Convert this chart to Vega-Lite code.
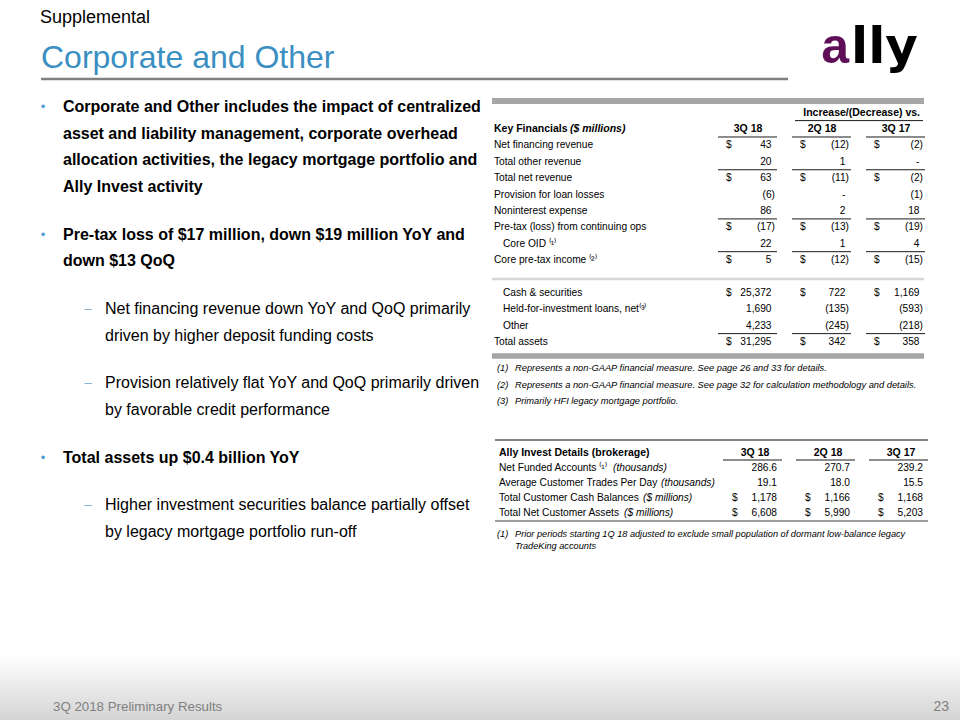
{
  "$schema": "https://vega.github.io/schema/vega-lite/v6.json",
  "width": 960,
  "height": 720,
  "autosize": {"type": "none"},
  "padding": 0,
  "background": "#ffffff",
  "config": {"view": {"stroke": null}, "axis": {"disable": true}, "legend": {"disable": true}, "font": "Liberation Sans"},
  "datasets": {
    "page": [{"section": "Supplemental", "title": "Corporate and Other", "footer": "3Q 2018 Preliminary Results", "pageNo": "23"}],
    "logo": [{"a": "a", "rest": "lly"}],
    "bullets": [
      {"para": 0, "line": 0, "level": 1, "marker": "•", "text": "Corporate and Other includes the impact of centralized"},
      {"para": 0, "line": 1, "level": 1, "marker": "", "text": "asset and liability management, corporate overhead"},
      {"para": 0, "line": 2, "level": 1, "marker": "", "text": "allocation activities, the legacy mortgage portfolio and"},
      {"para": 0, "line": 3, "level": 1, "marker": "", "text": "Ally Invest activity"},
      {"para": 1, "line": 4, "level": 1, "marker": "•", "text": "Pre-tax loss of $17 million, down $19 million YoY and"},
      {"para": 1, "line": 5, "level": 1, "marker": "", "text": "down $13 QoQ"},
      {"para": 2, "line": 6, "level": 2, "marker": "–", "text": "Net financing revenue down YoY and QoQ primarily"},
      {"para": 2, "line": 7, "level": 2, "marker": "", "text": "driven by higher deposit funding costs"},
      {"para": 3, "line": 8, "level": 2, "marker": "–", "text": "Provision relatively flat YoY and QoQ primarily driven"},
      {"para": 3, "line": 9, "level": 2, "marker": "", "text": "by favorable credit performance"},
      {"para": 4, "line": 10, "level": 1, "marker": "•", "text": "Total assets up $0.4 billion YoY"},
      {"para": 5, "line": 11, "level": 2, "marker": "–", "text": "Higher investment securities balance partially offset"},
      {"para": 5, "line": 12, "level": 2, "marker": "", "text": "by legacy mortgage portfolio run-off"}
    ],
    "kf": [
      {"row": 0, "label": "Net financing revenue", "indent": 0, "dollar": true, "cur": 43, "qoq": -12, "yoy": -2},
      {"row": 1, "label": "Total other revenue", "indent": 0, "dollar": false, "cur": 20, "qoq": 1, "yoy": 0},
      {"row": 2, "label": "Total net revenue", "indent": 0, "dollar": true, "cur": 63, "qoq": -11, "yoy": -2},
      {"row": 3, "label": "Provision for loan losses", "indent": 0, "dollar": false, "cur": -6, "qoq": 0, "yoy": -1},
      {"row": 4, "label": "Noninterest expense", "indent": 0, "dollar": false, "cur": 86, "qoq": 2, "yoy": 18},
      {"row": 5, "label": "Pre-tax (loss) from continuing ops", "indent": 0, "dollar": true, "cur": -17, "qoq": -13, "yoy": -19},
      {"row": 6, "label": "Core OID ⁽¹⁾", "indent": 1, "dollar": false, "cur": 22, "qoq": 1, "yoy": 4},
      {"row": 7, "label": "Core pre-tax income ⁽²⁾", "indent": 0, "dollar": true, "cur": 5, "qoq": -12, "yoy": -15},
      {"row": 9, "label": "Cash & securities", "indent": 1, "dollar": true, "cur": 25372, "qoq": 722, "yoy": 1169},
      {"row": 10, "label": "Held-for-investment loans, net⁽³⁾", "indent": 1, "dollar": false, "cur": 1690, "qoq": -135, "yoy": -593},
      {"row": 11, "label": "Other", "indent": 1, "dollar": false, "cur": 4233, "qoq": -245, "yoy": -218},
      {"row": 12, "label": "Total assets", "indent": 0, "dollar": true, "cur": 31295, "qoq": 342, "yoy": 358}
    ],
    "kfcols": [
      {"row": -1, "period": "cur", "title": "3Q 18"},
      {"row": -1, "period": "qoq", "title": "2Q 18"},
      {"row": -1, "period": "yoy", "title": "3Q 17"}
    ],
    "kfgroup": [{"row": -2, "title": "Increase/(Decrease) vs.", "from": "qoq", "to": "yoy"}],
    "kftitle": [{"row": -1, "indent": 0, "title": "Key Financials", "unit": "($ millions)"}],
    "kfnotes": [
      {"i": 0, "num": "(1)", "note": "Represents a non-GAAP financial measure. See page 26 and 33 for details."},
      {"i": 1, "num": "(2)", "note": "Represents a non-GAAP financial measure. See page 32 for calculation methodology and details."},
      {"i": 2, "num": "(3)", "note": "Primarily HFI legacy mortgage portfolio."}
    ],
    "ai": [
      {"row": 0, "indent": 0, "label": "Net Funded Accounts ⁽¹⁾", "unit": "(thousands)", "dollar": false, "cur": 286.6, "qoq": 270.7, "yoy": 239.2},
      {"row": 1, "indent": 0, "label": "Average Customer Trades Per Day", "unit": "(thousands)", "dollar": false, "cur": 19.1, "qoq": 18.0, "yoy": 15.5},
      {"row": 2, "indent": 0, "label": "Total Customer Cash Balances", "unit": "($ millions)", "dollar": true, "cur": 1178, "qoq": 1166, "yoy": 1168},
      {"row": 3, "indent": 0, "label": "Total Net Customer Assets", "unit": "($ millions)", "dollar": true, "cur": 6608, "qoq": 5990, "yoy": 5203}
    ],
    "aicols": [
      {"row": -1, "period": "cur", "title": "3Q 18"},
      {"row": -1, "period": "qoq", "title": "2Q 18"},
      {"row": -1, "period": "yoy", "title": "3Q 17"}
    ],
    "aititle": [{"row": -1, "indent": 0, "title": "Ally Invest Details (brokerage)"}],
    "ainotes": [
      {"i": 0, "num": "(1)", "note": "Prior periods starting 1Q 18 adjusted to exclude small population of dormant low-balance legacy"},
      {"i": 1, "num": "", "note": "TradeKing accounts"}
    ]
  },
  "resolve": {"scale": {"x": "independent", "y": "independent", "color": "independent"}},
  "layer": [
    {
      "data": {"name": "page"},
      "mark": {"type": "rect", "color": {"gradient": "linear", "x1": 0, "y1": 0, "x2": 0, "y2": 1, "stops": [{"offset": 0, "color": "#ffffff"}, {"offset": 1, "color": "#d4d4d4"}]}},
      "encoding": {"x": {"value": 0}, "x2": {"value": 960}, "y": {"value": 655}, "y2": {"value": 720}}
    },
    {
      "data": {"name": "page"},
      "mark": {"type": "rule", "color": "#808080", "strokeWidth": 2.5},
      "encoding": {"x": {"value": 41}, "x2": {"value": 788}, "y": {"value": 79}}
    },
    {
      "data": {"name": "page"},
      "mark": {"type": "text", "align": "left", "baseline": "alphabetic", "fontSize": 18, "color": "#000000"},
      "encoding": {"x": {"value": 40}, "y": {"value": 23}, "text": {"field": "section", "type": "nominal"}}
    },
    {
      "data": {"name": "page"},
      "mark": {"type": "text", "align": "left", "baseline": "alphabetic", "fontSize": 32, "color": "#3b8fc2"},
      "encoding": {"x": {"value": 41}, "y": {"value": 68}, "text": {"field": "title", "type": "nominal"}}
    },
    {
      "data": {"name": "logo"},
      "mark": {"type": "text", "align": "right", "baseline": "alphabetic", "fontSize": 50, "fontWeight": "bold", "color": "#5f0f58"},
      "encoding": {"x": {"value": 849}, "y": {"value": 63}, "text": {"field": "a", "type": "nominal"}}
    },
    {
      "data": {"name": "logo"},
      "mark": {"type": "text", "align": "left", "baseline": "alphabetic", "font": "DejaVu Sans", "fontSize": 50, "fontWeight": "bold", "color": "#000000"},
      "encoding": {"x": {"value": 851}, "y": {"value": 63}, "text": {"field": "rest", "type": "nominal"}}
    },
    {
      "data": {"name": "page"},
      "mark": {"type": "text", "align": "left", "baseline": "middle", "fontSize": 13.3, "color": "#808080"},
      "encoding": {"x": {"value": 53}, "y": {"value": 707}, "text": {"field": "footer", "type": "nominal"}}
    },
    {
      "data": {"name": "page"},
      "mark": {"type": "text", "align": "right", "baseline": "middle", "fontSize": 14, "color": "#808080"},
      "encoding": {"x": {"value": 949}, "y": {"value": 707}, "text": {"field": "pageNo", "type": "nominal"}}
    },
    {
      "data": {"name": "bullets"},
      "transform": [{"filter": "datum.level == 1"}],
      "mark": {"type": "text", "align": "left", "baseline": "middle", "fontSize": 16, "fontWeight": "bold", "color": "#000000"},
      "encoding": {
        "x": {"field": "level", "type": "quantitative", "scale": {"domain": [1, 2], "range": [63, 105]}},
        "y": {"field": "line", "type": "ordinal", "scale": {"type": "band", "domain": [0, 1, 2, 3, 4, 5, 6, 7, 8, 9, 10, 11, 12], "range": [107, 453.67], "paddingInner": 0, "paddingOuter": 0}},
        "yOffset": {"field": "para", "type": "quantitative", "scale": {"domain": [0, 5], "range": [0, 105]}},
        "text": {"field": "text", "type": "nominal"}
      }
    },
    {
      "data": {"name": "bullets"},
      "transform": [{"filter": "datum.level == 2"}],
      "mark": {"type": "text", "align": "left", "baseline": "middle", "fontSize": 16, "color": "#000000"},
      "encoding": {
        "x": {"field": "level", "type": "quantitative", "scale": {"domain": [1, 2], "range": [63, 105]}},
        "y": {"field": "line", "type": "ordinal", "scale": {"type": "band", "domain": [0, 1, 2, 3, 4, 5, 6, 7, 8, 9, 10, 11, 12], "range": [107, 453.67], "paddingInner": 0, "paddingOuter": 0}},
        "yOffset": {"field": "para", "type": "quantitative", "scale": {"domain": [0, 5], "range": [0, 105]}},
        "text": {"field": "text", "type": "nominal"}
      }
    },
    {
      "data": {"name": "bullets"},
      "transform": [{"filter": "datum.marker != ''"}],
      "mark": {"type": "text", "align": "center", "baseline": "middle", "fontSize": 13},
      "encoding": {
        "x": {"field": "level", "type": "quantitative", "scale": {"domain": [1, 2], "range": [43, 88]}},
        "y": {"field": "line", "type": "ordinal", "scale": {"type": "band", "domain": [0, 1, 2, 3, 4, 5, 6, 7, 8, 9, 10, 11, 12], "range": [107, 453.67], "paddingInner": 0, "paddingOuter": 0}},
        "yOffset": {"field": "para", "type": "quantitative", "scale": {"domain": [0, 5], "range": [0, 105]}},
        "color": {"field": "marker", "type": "nominal", "scale": {"domain": ["•", "–"], "range": ["#4a9bd1", "#7ea9cc"]}},
        "text": {"field": "marker", "type": "nominal"}
      }
    },
    {
      "data": {"name": "kftitle"},
      "mark": {"type": "rule", "color": "#a6a6a6", "strokeWidth": 6, "xOffset": -283, "x2Offset": 1, "yOffset": -11.5},
      "encoding": {
        "x": {"datum": "cur", "type": "nominal", "scale": {"type": "point", "domain": ["cur", "qoq", "yoy"], "range": [775, 923], "padding": 0}},
        "x2": {"datum": "yoy"},
        "y": {"datum": -2, "type": "quantitative", "scale": {"domain": [-2, 12], "range": [112.6, 342]}}
      }
    },
    {
      "data": {"name": "kftitle"},
      "mark": {"type": "rule", "color": "#d6d6d6", "strokeWidth": 2.5, "xOffset": -283, "x2Offset": 1, "yOffset": 2.5},
      "encoding": {
        "x": {"datum": "cur", "type": "nominal", "scale": {"type": "point", "domain": ["cur", "qoq", "yoy"], "range": [775, 923], "padding": 0}},
        "x2": {"datum": "yoy"},
        "y": {"datum": 8, "type": "quantitative", "scale": {"domain": [-2, 12], "range": [112.6, 342]}}
      }
    },
    {
      "data": {"name": "kftitle"},
      "mark": {"type": "rule", "color": "#a6a6a6", "strokeWidth": 5.5, "xOffset": -283, "x2Offset": 1, "yOffset": 14},
      "encoding": {
        "x": {"datum": "cur", "type": "nominal", "scale": {"type": "point", "domain": ["cur", "qoq", "yoy"], "range": [775, 923], "padding": 0}},
        "x2": {"datum": "yoy"},
        "y": {"datum": 12, "type": "quantitative", "scale": {"domain": [-2, 12], "range": [112.6, 342]}}
      }
    },
    {
      "data": {"name": "kfgroup"},
      "mark": {"type": "text", "align": "right", "baseline": "middle", "fontSize": 10.5, "fontWeight": "bold", "dx": -3, "color": "#000000"},
      "encoding": {
        "x": {"field": "to", "type": "nominal", "scale": {"type": "point", "domain": ["cur", "qoq", "yoy"], "range": [775, 923], "padding": 0}},
        "y": {"field": "row", "type": "quantitative", "scale": {"domain": [-2, 12], "range": [112.6, 342]}},
        "text": {"field": "title", "type": "nominal"}
      }
    },
    {
      "data": {"name": "kfgroup"},
      "mark": {"type": "rule", "color": "#000000", "strokeWidth": 0.9, "xOffset": -54, "x2Offset": 0, "yOffset": 8},
      "encoding": {
        "x": {"field": "from", "type": "nominal", "scale": {"type": "point", "domain": ["cur", "qoq", "yoy"], "range": [775, 923], "padding": 0}},
        "x2": {"field": "to"},
        "y": {"field": "row", "type": "quantitative", "scale": {"domain": [-2, 12], "range": [112.6, 342]}}
      }
    },
    {
      "data": {"name": "kftitle"},
      "mark": {"type": "text", "align": "left", "baseline": "middle", "fontSize": 10.5, "fontWeight": "bold", "color": "#000000"},
      "encoding": {
        "x": {"field": "indent", "type": "quantitative", "scale": {"domain": [0, 1], "range": [494, 503]}},
        "y": {"field": "row", "type": "quantitative", "scale": {"domain": [-2, 12], "range": [112.6, 342]}},
        "text": {"field": "title", "type": "nominal"}
      }
    },
    {
      "data": {"name": "kftitle"},
      "mark": {"type": "text", "align": "left", "baseline": "middle", "fontSize": 10.5, "fontWeight": "bold", "fontStyle": "italic", "dx": 76, "color": "#000000"},
      "encoding": {
        "x": {"field": "indent", "type": "quantitative", "scale": {"domain": [0, 1], "range": [494, 503]}},
        "y": {"field": "row", "type": "quantitative", "scale": {"domain": [-2, 12], "range": [112.6, 342]}},
        "text": {"field": "unit", "type": "nominal"}
      }
    },
    {
      "data": {"name": "kfcols"},
      "mark": {"type": "text", "align": "center", "baseline": "middle", "fontSize": 10.5, "fontWeight": "bold", "dx": -27, "color": "#000000"},
      "encoding": {
        "x": {"field": "period", "type": "nominal", "scale": {"type": "point", "domain": ["cur", "qoq", "yoy"], "range": [775, 923], "padding": 0}},
        "y": {"field": "row", "type": "quantitative", "scale": {"domain": [-2, 12], "range": [112.6, 342]}},
        "text": {"field": "title", "type": "nominal"}
      }
    },
    {
      "data": {"name": "kfcols"},
      "mark": {"type": "rule", "color": "#000000", "strokeWidth": 0.9, "xOffset": -57, "x2Offset": 2, "yOffset": 8},
      "encoding": {
        "x": {"field": "period", "type": "nominal", "scale": {"type": "point", "domain": ["cur", "qoq", "yoy"], "range": [775, 923], "padding": 0}},
        "x2": {"field": "period"},
        "y": {"field": "row", "type": "quantitative", "scale": {"domain": [-2, 12], "range": [112.6, 342]}}
      }
    },
    {
      "data": {"name": "kf"},
      "mark": {"type": "text", "align": "left", "baseline": "middle", "fontSize": 10.2, "color": "#000000"},
      "encoding": {
        "x": {"field": "indent", "type": "quantitative", "scale": {"domain": [0, 1], "range": [494, 503]}},
        "y": {"field": "row", "type": "quantitative", "scale": {"domain": [-2, 12], "range": [112.6, 342]}},
        "text": {"field": "label", "type": "nominal"}
      }
    },
    {
      "data": {"name": "kf"},
      "transform": [{"filter": "datum.dollar"}, {"fold": ["cur", "qoq", "yoy"], "as": ["period", "value"]}],
      "mark": {"type": "text", "align": "left", "baseline": "middle", "fontSize": 10.2, "dx": -49, "color": "#000000"},
      "encoding": {
        "x": {"field": "period", "type": "nominal", "scale": {"type": "point", "domain": ["cur", "qoq", "yoy"], "range": [775, 923], "padding": 0}},
        "y": {"field": "row", "type": "quantitative", "scale": {"domain": [-2, 12], "range": [112.6, 342]}},
        "text": {"value": "$"}
      }
    },
    {
      "data": {"name": "kf"},
      "transform": [{"fold": ["cur", "qoq", "yoy"], "as": ["period", "value"]}, {"filter": "datum.value < 0"}],
      "mark": {"type": "text", "align": "right", "baseline": "middle", "fontSize": 10.2, "color": "#000000"},
      "encoding": {
        "x": {"field": "period", "type": "nominal", "scale": {"type": "point", "domain": ["cur", "qoq", "yoy"], "range": [775, 923], "padding": 0}},
        "y": {"field": "row", "type": "quantitative", "scale": {"domain": [-2, 12], "range": [112.6, 342]}},
        "text": {"field": "value", "type": "quantitative", "format": "(,.0f"}
      }
    },
    {
      "data": {"name": "kf"},
      "transform": [{"fold": ["cur", "qoq", "yoy"], "as": ["period", "value"]}, {"filter": "datum.value >= 0"}],
      "mark": {"type": "text", "align": "right", "baseline": "middle", "fontSize": 10.2, "dx": -3.5, "color": "#000000"},
      "encoding": {
        "x": {"field": "period", "type": "nominal", "scale": {"type": "point", "domain": ["cur", "qoq", "yoy"], "range": [775, 923], "padding": 0}},
        "y": {"field": "row", "type": "quantitative", "scale": {"domain": [-2, 12], "range": [112.6, 342]}},
        "text": {"condition": {"test": "datum.value === 0", "value": "-"}, "field": "value", "type": "quantitative", "format": ",.0f"}
      }
    },
    {
      "data": {"name": "kf"},
      "transform": [{"filter": {"field": "row", "oneOf": [1, 4, 6, 11]}}, {"fold": ["cur", "qoq", "yoy"], "as": ["period", "value"]}],
      "mark": {"type": "rule", "color": "#000000", "strokeWidth": 0.9, "xOffset": -57, "x2Offset": 2, "yOffset": 8},
      "encoding": {
        "x": {"field": "period", "type": "nominal", "scale": {"type": "point", "domain": ["cur", "qoq", "yoy"], "range": [775, 923], "padding": 0}},
        "x2": {"field": "period"},
        "y": {"field": "row", "type": "quantitative", "scale": {"domain": [-2, 12], "range": [112.6, 342]}}
      }
    },
    {
      "data": {"name": "kfnotes"},
      "transform": [{"fold": ["num", "note"], "as": ["part", "txt"]}],
      "mark": {"type": "text", "align": "left", "baseline": "middle", "fontSize": 9.3, "fontStyle": "italic", "color": "#000000"},
      "encoding": {
        "x": {"field": "part", "type": "nominal", "scale": {"type": "point", "domain": ["num", "note"], "range": [497, 515], "padding": 0}},
        "y": {"field": "i", "type": "quantitative", "scale": {"domain": [0, 2], "range": [368, 401]}},
        "text": {"field": "txt", "type": "nominal"}
      }
    },
    {
      "data": {"name": "aititle"},
      "mark": {"type": "rule", "color": "#595959", "strokeWidth": 1.5, "xOffset": -282, "x2Offset": 5, "yOffset": -13},
      "encoding": {
        "x": {"datum": "cur", "type": "nominal", "scale": {"type": "point", "domain": ["cur", "qoq", "yoy"], "range": [777, 923], "padding": 0}},
        "x2": {"datum": "yoy"},
        "y": {"datum": -1, "type": "quantitative", "scale": {"domain": [-1, 3], "range": [453, 513]}}
      }
    },
    {
      "data": {"name": "aititle"},
      "mark": {"type": "rule", "color": "#7f7f7f", "strokeWidth": 1.3, "xOffset": -282, "x2Offset": 5, "yOffset": 8},
      "encoding": {
        "x": {"datum": "cur", "type": "nominal", "scale": {"type": "point", "domain": ["cur", "qoq", "yoy"], "range": [777, 923], "padding": 0}},
        "x2": {"datum": "yoy"},
        "y": {"datum": 3, "type": "quantitative", "scale": {"domain": [-1, 3], "range": [453, 513]}}
      }
    },
    {
      "data": {"name": "aititle"},
      "mark": {"type": "text", "align": "left", "baseline": "middle", "fontSize": 10.5, "fontWeight": "bold", "color": "#000000"},
      "encoding": {
        "x": {"field": "indent", "type": "quantitative", "scale": {"domain": [0, 1], "range": [499, 508]}},
        "y": {"field": "row", "type": "quantitative", "scale": {"domain": [-1, 3], "range": [453, 513]}},
        "text": {"field": "title", "type": "nominal"}
      }
    },
    {
      "data": {"name": "aicols"},
      "mark": {"type": "text", "align": "center", "baseline": "middle", "fontSize": 10.5, "fontWeight": "bold", "dx": -22, "color": "#000000"},
      "encoding": {
        "x": {"field": "period", "type": "nominal", "scale": {"type": "point", "domain": ["cur", "qoq", "yoy"], "range": [777, 923], "padding": 0}},
        "y": {"field": "row", "type": "quantitative", "scale": {"domain": [-1, 3], "range": [453, 513]}},
        "text": {"field": "title", "type": "nominal"}
      }
    },
    {
      "data": {"name": "aicols"},
      "mark": {"type": "rule", "color": "#000000", "strokeWidth": 0.9, "xOffset": -54, "x2Offset": 5, "yOffset": 7},
      "encoding": {
        "x": {"field": "period", "type": "nominal", "scale": {"type": "point", "domain": ["cur", "qoq", "yoy"], "range": [777, 923], "padding": 0}},
        "x2": {"field": "period"},
        "y": {"field": "row", "type": "quantitative", "scale": {"domain": [-1, 3], "range": [453, 513]}}
      }
    },
    {
      "data": {"name": "ai"},
      "mark": {"type": "text", "align": "left", "baseline": "middle", "fontSize": 10.2, "color": "#000000"},
      "encoding": {
        "x": {"field": "indent", "type": "quantitative", "scale": {"domain": [0, 1], "range": [499, 508]}},
        "y": {"field": "row", "type": "quantitative", "scale": {"domain": [-1, 3], "range": [453, 513]}},
        "text": {"field": "label", "type": "nominal"}
      }
    },
    {
      "data": {"name": "ai"},
      "transform": [{"filter": "datum.row == 0"}],
      "mark": {"type": "text", "align": "left", "baseline": "middle", "fontSize": 10.2, "fontStyle": "italic", "dx": 114, "color": "#000000"},
      "encoding": {
        "x": {"field": "indent", "type": "quantitative", "scale": {"domain": [0, 1], "range": [499, 508]}},
        "y": {"field": "row", "type": "quantitative", "scale": {"domain": [-1, 3], "range": [453, 513]}},
        "text": {"field": "unit", "type": "nominal"}
      }
    },
    {
      "data": {"name": "ai"},
      "transform": [{"filter": "datum.row == 1"}],
      "mark": {"type": "text", "align": "left", "baseline": "middle", "fontSize": 10.2, "fontStyle": "italic", "dx": 162, "color": "#000000"},
      "encoding": {
        "x": {"field": "indent", "type": "quantitative", "scale": {"domain": [0, 1], "range": [499, 508]}},
        "y": {"field": "row", "type": "quantitative", "scale": {"domain": [-1, 3], "range": [453, 513]}},
        "text": {"field": "unit", "type": "nominal"}
      }
    },
    {
      "data": {"name": "ai"},
      "transform": [{"filter": "datum.row == 2"}],
      "mark": {"type": "text", "align": "left", "baseline": "middle", "fontSize": 10.2, "fontStyle": "italic", "dx": 144, "color": "#000000"},
      "encoding": {
        "x": {"field": "indent", "type": "quantitative", "scale": {"domain": [0, 1], "range": [499, 508]}},
        "y": {"field": "row", "type": "quantitative", "scale": {"domain": [-1, 3], "range": [453, 513]}},
        "text": {"field": "unit", "type": "nominal"}
      }
    },
    {
      "data": {"name": "ai"},
      "transform": [{"filter": "datum.row == 3"}],
      "mark": {"type": "text", "align": "left", "baseline": "middle", "fontSize": 10.2, "fontStyle": "italic", "dx": 125, "color": "#000000"},
      "encoding": {
        "x": {"field": "indent", "type": "quantitative", "scale": {"domain": [0, 1], "range": [499, 508]}},
        "y": {"field": "row", "type": "quantitative", "scale": {"domain": [-1, 3], "range": [453, 513]}},
        "text": {"field": "unit", "type": "nominal"}
      }
    },
    {
      "data": {"name": "ai"},
      "transform": [{"filter": "datum.dollar"}, {"fold": ["cur", "qoq", "yoy"], "as": ["period", "value"]}],
      "mark": {"type": "text", "align": "left", "baseline": "middle", "fontSize": 10.2, "dx": -45, "color": "#000000"},
      "encoding": {
        "x": {"field": "period", "type": "nominal", "scale": {"type": "point", "domain": ["cur", "qoq", "yoy"], "range": [777, 923], "padding": 0}},
        "y": {"field": "row", "type": "quantitative", "scale": {"domain": [-1, 3], "range": [453, 513]}},
        "text": {"value": "$"}
      }
    },
    {
      "data": {"name": "ai"},
      "transform": [{"filter": "datum.dollar"}, {"fold": ["cur", "qoq", "yoy"], "as": ["period", "value"]}],
      "mark": {"type": "text", "align": "right", "baseline": "middle", "fontSize": 10.2, "color": "#000000"},
      "encoding": {
        "x": {"field": "period", "type": "nominal", "scale": {"type": "point", "domain": ["cur", "qoq", "yoy"], "range": [777, 923], "padding": 0}},
        "y": {"field": "row", "type": "quantitative", "scale": {"domain": [-1, 3], "range": [453, 513]}},
        "text": {"field": "value", "type": "quantitative", "format": ",.0f"}
      }
    },
    {
      "data": {"name": "ai"},
      "transform": [{"filter": "!datum.dollar"}, {"fold": ["cur", "qoq", "yoy"], "as": ["period", "value"]}],
      "mark": {"type": "text", "align": "right", "baseline": "middle", "fontSize": 10.2, "color": "#000000"},
      "encoding": {
        "x": {"field": "period", "type": "nominal", "scale": {"type": "point", "domain": ["cur", "qoq", "yoy"], "range": [777, 923], "padding": 0}},
        "y": {"field": "row", "type": "quantitative", "scale": {"domain": [-1, 3], "range": [453, 513]}},
        "text": {"field": "value", "type": "quantitative", "format": ".1f"}
      }
    },
    {
      "data": {"name": "ainotes"},
      "transform": [{"fold": ["num", "note"], "as": ["part", "txt"]}],
      "mark": {"type": "text", "align": "left", "baseline": "middle", "fontSize": 9.2, "fontStyle": "italic", "color": "#000000"},
      "encoding": {
        "x": {"field": "part", "type": "nominal", "scale": {"type": "point", "domain": ["num", "note"], "range": [497, 515], "padding": 0}},
        "y": {"field": "i", "type": "quantitative", "scale": {"domain": [0, 1], "range": [534, 546]}},
        "text": {"field": "txt", "type": "nominal"}
      }
    }
  ]
}
